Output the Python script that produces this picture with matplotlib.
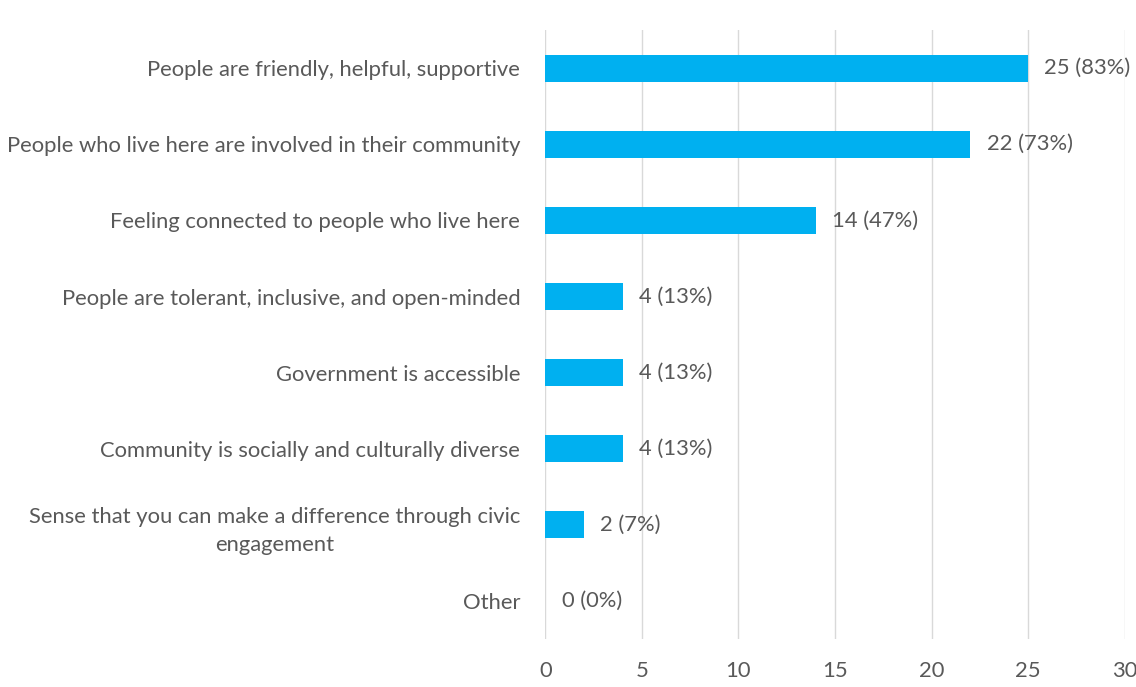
import matplotlib.pyplot as plt

# Survey responses: what makes the community feel connected
categories = [
    "People are friendly, helpful, supportive",
    "People who live here are involved in their community",
    "Feeling connected to people who live here",
    "People are tolerant, inclusive, and open-minded",
    "Government is accessible",
    "Community is socially and culturally diverse",
    "Sense that you can make a difference through civic\nengagement",
    "Other",
]
counts = [25, 22, 14, 4, 4, 4, 2, 0]
percents = [83, 73, 47, 13, 13, 13, 7, 0]
x_ticks = [0, 5, 10, 15, 20, 25, 30]

BAR_COLOR = "#00B0F0"
TEXT_COLOR = "#595959"
GRID_COLOR = "#D9D9D9"
FS = 15.8

plt.rcParams["font.family"] = ["Lato", "DejaVu Sans"]

fig = plt.figure(figsize=(11.36, 6.87), dpi=100)
ax = fig.add_axes([0.48, 0.070, 0.510, 0.886])

ypos = list(range(len(categories)))
ax.barh(ypos, counts, height=0.36, color=BAR_COLOR, zorder=3)

for y, c, p in zip(ypos, counts, percents):
    ax.text(c + 0.85, y, f"{c} ({p}%)", va="center", ha="left",
            fontsize=FS, color=TEXT_COLOR, zorder=4)

ax.set_ylim(len(categories) - 0.5, -0.5)
ax.set_xlim(0, 30)
ax.set_yticks(ypos)
ax.set_yticklabels(categories, fontsize=FS, color=TEXT_COLOR)
ax.set_xticks(x_ticks)
ax.set_xticklabels([str(t) for t in x_ticks], fontsize=FS, color=TEXT_COLOR)

# wrapped label: right edge aligned, lines centred on each other
for lbl in ax.get_yticklabels():
    lbl.set_horizontalalignment("right")
    lbl.set_multialignment("center")
    lbl.set_linespacing(1.5)

ax.tick_params(axis="y", length=0, pad=18)
ax.tick_params(axis="x", length=0, pad=16)
for s in ax.spines.values():
    s.set_visible(False)

ax.grid(axis="x", color=GRID_COLOR, linewidth=1, zorder=0)
ax.set_axisbelow(True)

fig.savefig("out.png", dpi=100, facecolor="white")
